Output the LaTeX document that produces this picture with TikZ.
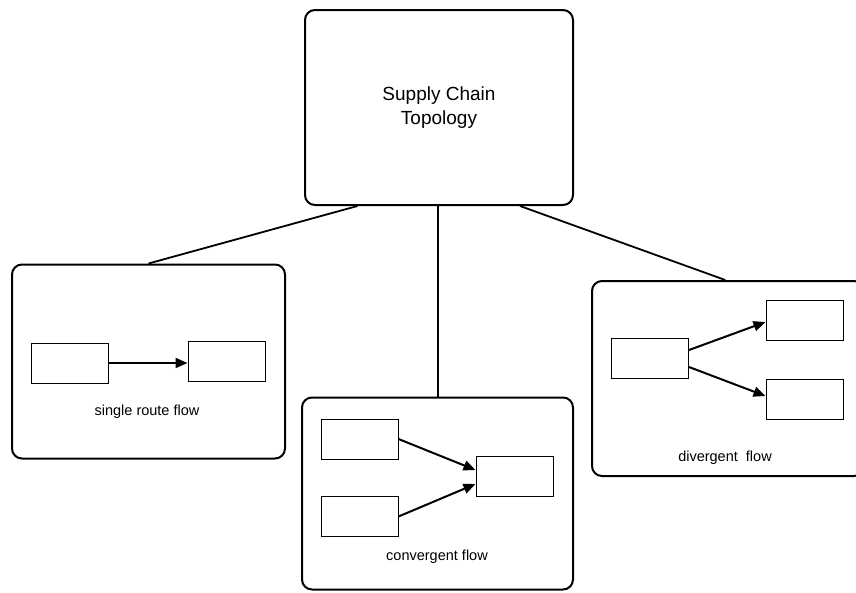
\documentclass[tikz,border=0pt]{standalone}
\usepackage{fontspec}
\setmainfont{Liberation Sans}
\usetikzlibrary{arrows.meta,calc}

\tikzset{
  panel/.style={draw, line width=2pt, rounded corners=10pt, inner sep=0pt},
  cell/.style={draw, line width=1pt, minimum width=77pt, minimum height=40pt, inner sep=0pt},
  flowarrow/.style={line width=2pt, -{Triangle[length=12pt,width=10pt]}},
  link/.style={line width=1.8pt},
  caption/.style={font=\fontsize{14.5}{17}\selectfont, inner sep=0pt}
}

\begin{document}
\begin{tikzpicture}[x=1pt, y=-1pt]
  \clip (0,0) rectangle (856,592);

  % top-level concept
  \node[panel, minimum width=268pt, minimum height=195pt, align=center,
        font=\fontsize{19}{24}\selectfont] (top) at (439,107.5)
        {Supply Chain\\Topology};

  % the three flow panels
  \node[panel, minimum width=273pt, minimum height=194pt] (single) at (148.5,361.5) {};
  \node[panel, minimum width=271pt, minimum height=192pt] (conv) at (437.5,493.5) {};
  \node[panel, minimum width=272pt, minimum height=195pt] (div) at (728,378.5) {};

  % links from the concept to the panels
  \draw[link] ($(top.south west)!0.198!(top.south east)$) -- ($(single.north west)!0.5!(single.north east)$);
  \draw[link] ($(top.south)+(-1,0)$) -- ($(top.south |- conv.north)+(-1,0)$);
  \draw[link] ($(top.south west)!0.80!(top.south east)$) -- ($(div.north west)!0.49!(div.north east)$);

  % single route flow
  \node[cell] (s1) at (70,363) {};
  \node[cell] (s2) at (226.5,361.5) {};
  \draw[flowarrow] (s1.east) -- (s2.west |- s1.east);
  \node[caption] (slabel) at (147,412) {single route flow};

  % convergent flow
  \node[cell] (c1) at (359.5,439) {};
  \node[cell] (c2) at (359.5,516.5) {};
  \node[cell] (c3) at (514.5,476.5) {};
  \draw[flowarrow] (c1.east) -- ($(c3.west)+(0,-6.5)$);
  \draw[flowarrow] (c2.east) -- ($(c3.west)+(0,7.5)$);
  \node[caption] (clabel) at (437,557) {convergent flow};

  % divergent flow
  \node[cell] (d1) at (650,358.5) {};
  \node[cell] (d2) at (804.5,320.5) {};
  \node[cell] (d3) at (804.5,399) {};
  \draw[flowarrow] ($(d1.east)+(0,-8.5)$) -- ($(d2.west)+(0,1.5)$);
  \draw[flowarrow] ($(d1.east)+(0,8.5)$) -- ($(d3.west)+(0,-3)$);
  \node[caption] (dlabel) at (725,458) {divergent~~flow};
\end{tikzpicture}
\end{document}
